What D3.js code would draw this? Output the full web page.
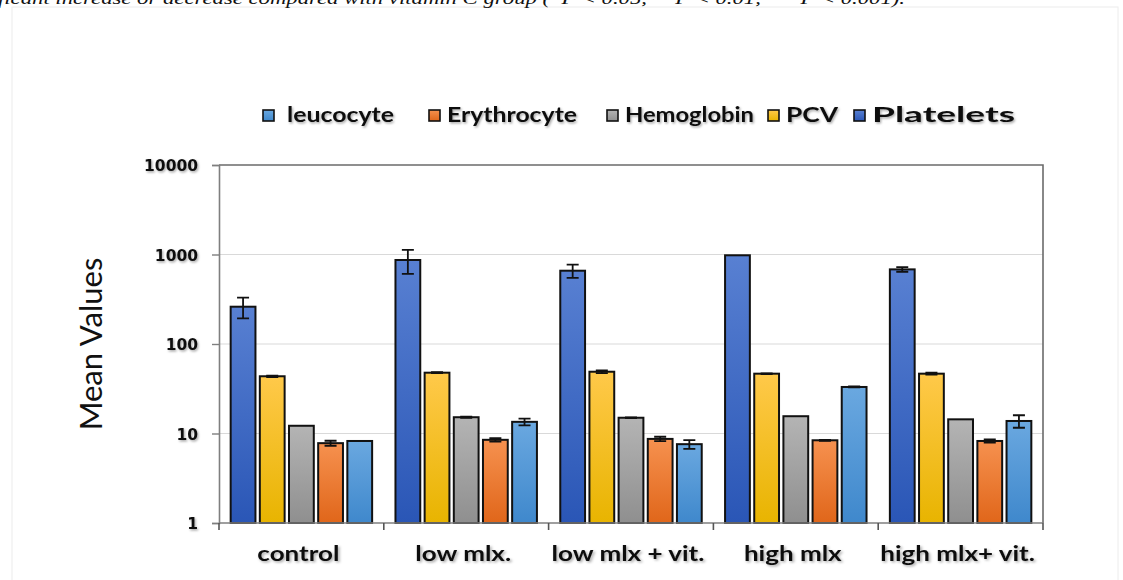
<!DOCTYPE html>
<html>
<head>
<meta charset="utf-8">
<script src="https://cdn.jsdelivr.net/npm/d3@7"></script>
<style>
  html, body { margin: 0; padding: 0; background: #ffffff; }
  svg { display: block; }
</style>
</head>
<body>
<svg id="chart" width="1123" height="580"></svg>
<script>
// ---------------- data ----------------
const groups = ["control", "low mlx.", "low mlx + vit.", "high mlx", "high mlx+ vit."];
const seriesNames = ["Platelets", "PCV", "Hemoglobin", "Erythrocyte", "leucocyte"];
const legendOrder = ["leucocyte", "Erythrocyte", "Hemoglobin", "PCV", "Platelets"];

const platelets      = [261, 868, 659, 980, 682];
const plateletsErr   = [68, 260, 110, 0, 40];
const pcv            = [43.6, 47.8, 49.0, 46.6, 46.6];
const pcvErr         = [0.8, 0.6, 1.8, 0.4, 1.2];
const hemoglobin     = [12.2, 15.2, 15.0, 15.6, 14.4];
const hemoglobinErr  = [0, 0.2, 0.1, 0, 0];
const erythrocyte    = [7.8, 8.5, 8.7, 8.4, 8.25];
const erythrocyteErr = [0.5, 0.4, 0.5, 0.1, 0.35];
const leucocyte      = [8.25, 13.5, 7.6, 33.1, 13.8];
const leucocyteErr   = [0, 1.2, 0.85, 0.4, 2.2];

const yTicks = [1, 10, 100, 1000, 10000];
const yTitle = "Mean Values";
const topNote = "ficant increase or decrease compared with vitamin C group (*P < 0.05, **P < 0.01, ***P < 0.001).";

const values = { Platelets: platelets, PCV: pcv, Hemoglobin: hemoglobin, Erythrocyte: erythrocyte, leucocyte: leucocyte };
const errors = { Platelets: plateletsErr, PCV: pcvErr, Hemoglobin: hemoglobinErr, Erythrocyte: erythrocyteErr, leucocyte: leucocyteErr };

const colors = {
  Platelets:   ["#5880d2", "#2a56b6"],
  PCV:         ["#ffc94a", "#e8b400"],
  Hemoglobin:  ["#b4b4b4", "#8f8f8f"],
  Erythrocyte: ["#f6914f", "#e0661a"],
  leucocyte:   ["#6aa8e0", "#3f88cc"]
};

// ---------------- layout ----------------
const svg = d3.select("#chart");
const plot = { left: 219, right: 1043, top: 165, bottom: 523 };

const defs = svg.append("defs");
Object.entries(colors).forEach(([k, c], i) => {
  const g = defs.append("linearGradient").attr("id", "grad" + i)
    .attr("x1", 0).attr("y1", 0).attr("x2", 0).attr("y2", 1);
  g.append("stop").attr("offset", "0%").attr("stop-color", c[0]);
  g.append("stop").attr("offset", "100%").attr("stop-color", c[1]);
  colors[k].id = "url(#grad" + i + ")";
});
const shadow = defs.append("filter").attr("id", "tshadow")
  .attr("x", "-10%").attr("y", "-30%").attr("width", "130%").attr("height", "180%");
shadow.append("feDropShadow").attr("dx", 1.2).attr("dy", 1.5).attr("stdDeviation", 1.2)
  .attr("flood-color", "#000").attr("flood-opacity", 0.35);

// faint page frame
svg.append("rect").attr("x", 12).attr("y", 7).attr("width", 1106).attr("height", 600)
  .attr("fill", "none").attr("stroke", "#ececec").attr("stroke-width", 1);

// top cut-off note (cropped in the source image)
svg.append("text").attr("x", -2).attr("y", 4)
  .attr("font-family", "Liberation Serif, serif").attr("font-style", "italic")
  .attr("font-size", 17).attr("fill", "#111")
  .attr("textLength", 907).attr("lengthAdjust", "spacingAndGlyphs")
  .text(topNote);

// scales
const x0 = d3.scaleBand().domain(groups).range([plot.left, plot.right]).paddingInner(0).paddingOuter(0);
const x1 = d3.scaleBand().domain(seriesNames).range([0, x0.bandwidth()]).paddingInner(0.15).paddingOuter(0.4);
const y = d3.scaleLog().domain([1, 10000]).range([plot.bottom, plot.top]);

// gridlines
svg.append("g").selectAll("line").data(yTicks.filter(t => t > 1 && t < 10000)).join("line")
  .attr("x1", plot.left).attr("x2", plot.right)
  .attr("y1", d => y(d)).attr("y2", d => y(d))
  .attr("stroke", "#d9d9d9").attr("stroke-width", 1.2);

// frame top/right
svg.append("path")
  .attr("d", `M${plot.left},${plot.top}H${plot.right}V${plot.bottom}`)
  .attr("fill", "none").attr("stroke", "#6b6b6b").attr("stroke-width", 1.6);

// bars
const gGroups = svg.append("g").selectAll("g").data(groups).join("g")
  .attr("transform", d => `translate(${x0(d)},0)`);

gGroups.each(function(gName, gi) {
  const g = d3.select(this);
  seriesNames.forEach(s => {
    const v = values[s][gi];
    g.append("rect")
      .attr("x", x1(s)).attr("width", x1.bandwidth())
      .attr("y", y(v)).attr("height", y(1) - y(v))
      .attr("fill", colors[s].id).attr("stroke", "#111").attr("stroke-width", 2);
    const e = errors[s][gi];
    if (e > 0) {
      const cx = x1(s) + x1.bandwidth() / 2;
      const yt = y(v + e), yb = y(Math.max(v - e, 1));
      g.append("path")
        .attr("d", `M${cx},${yt}V${yb}M${cx - 6},${yt}H${cx + 6}M${cx - 6},${yb}H${cx + 6}`)
        .attr("stroke", "#111").attr("stroke-width", 1.8).attr("fill", "none");
    }
  });
});

// y axis
const yAxis = d3.axisLeft(y).tickValues(yTicks).tickSize(7).tickFormat(d3.format("d"));
const gy = svg.append("g").attr("transform", `translate(${plot.left},0)`).call(yAxis);
gy.select(".domain").attr("stroke", "#7f7f7f").attr("stroke-width", 1.6);
gy.selectAll(".tick line").attr("stroke", "#7f7f7f").attr("stroke-width", 1.4);
gy.selectAll(".tick text")
  .attr("font-family", "DejaVu Sans, sans-serif").attr("font-weight", 700)
  .attr("font-size", 15.5).attr("fill", "#111")
  .attr("x", -21).attr("dy", "0.36em")
  .attr("filter", "url(#tshadow)");

// x axis
const gx = svg.append("g").attr("transform", `translate(0,${plot.bottom})`);
gx.append("line").attr("x1", plot.left).attr("x2", plot.right)
  .attr("stroke", "#7f7f7f").attr("stroke-width", 1.6);
const bounds = groups.map(g => x0(g)).concat([plot.right]);
gx.selectAll("line.tk").data(bounds).join("line").attr("class", "tk")
  .attr("x1", d => d).attr("x2", d => d).attr("y1", 0).attr("y2", 7)
  .attr("stroke", "#555").attr("stroke-width", 1.6);
gx.selectAll("text").data(groups).join("text")
  .attr("transform", d => `translate(${x0(d) + x0.bandwidth() / 2 - 3},38) scale(1.3,1)`)
  .attr("text-anchor", "middle")
  .attr("font-family", "Lato, sans-serif").attr("font-weight", 700)
  .attr("font-size", 20).attr("fill", "#111")
  .attr("filter", "url(#tshadow)")
  .text(d => d);

// y title
svg.append("text")
  .attr("transform", `translate(102,344) rotate(-90)`)
  .attr("text-anchor", "middle")
  .attr("font-family", "Lato, sans-serif").attr("font-size", 31).attr("fill", "#111")
  .text(yTitle);

// legend
const legendX = [263, 429, 607, 768, 854];
const legendTextW = [107, 130, 129, 52, 143];
const lg = svg.append("g").selectAll("g").data(legendOrder).join("g")
  .attr("transform", (d, i) => `translate(${legendX[i]},110)`);
lg.append("rect").attr("x", 0).attr("y", 0).attr("width", 11).attr("height", 11)
  .attr("fill", d => colors[d].id).attr("stroke", "#111").attr("stroke-width", 1.6);
lg.append("text")
  .attr("x", (d, i) => i === 0 ? 24 : 18).attr("y", 12)
  .attr("textLength", (d, i) => legendTextW[i]).attr("lengthAdjust", "spacingAndGlyphs")
  .attr("font-family", "Lato, sans-serif").attr("font-weight", 700)
  .attr("font-size", 20).attr("fill", "#111")
  .attr("filter", "url(#tshadow)")
  .text(d => d);
</script>
</body>
</html>
